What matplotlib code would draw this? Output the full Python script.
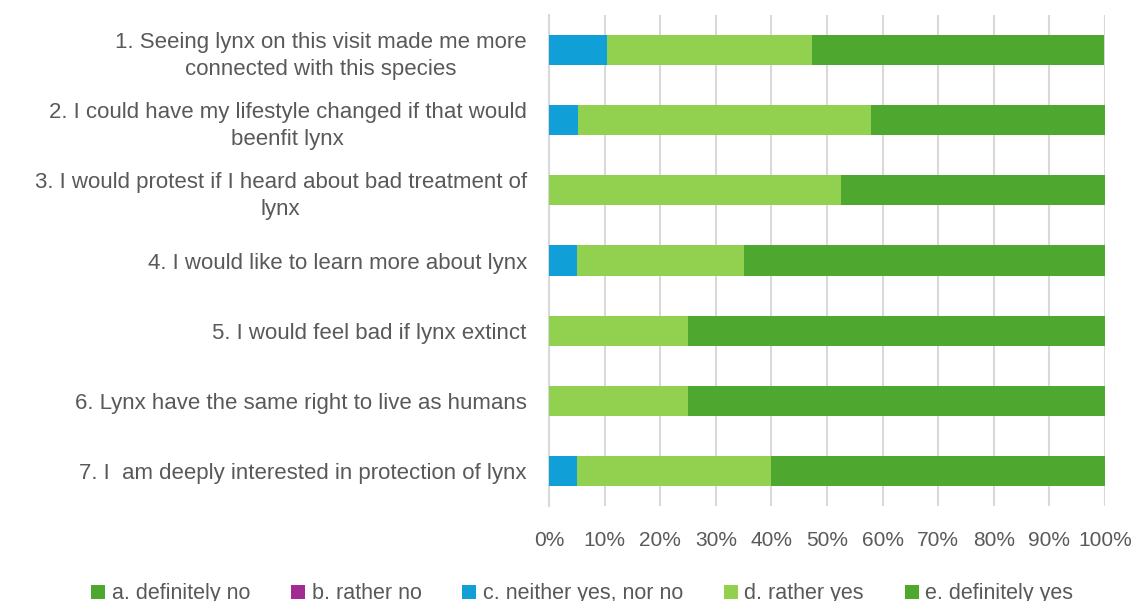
import numpy as np
import matplotlib.pyplot as plt
from matplotlib.ticker import PercentFormatter

# statements, top to bottom
statements = [
    "1. Seeing lynx on this visit made me more\nconnected with this species",
    "2. I could have my lifestyle changed if that would\nbeenfit lynx",
    "3. I would protest if I heard about bad treatment of\nlynx",
    "4. I would like to learn more about lynx",
    "5. I would feel bad if lynx extinct",
    "6. Lynx have the same right to live as humans",
    "7. I  am deeply interested in protection of lynx",
]

series_names = [
    "a. definitely no",
    "b. rather no",
    "c. neither yes, nor no",
    "d. rather yes",
    "e. definitely yes",
]

# shares in percent, one list per answer option
definitely_no = [0, 0, 0, 0, 0, 0, 0]
rather_no = [0, 0, 0, 0, 0, 0, 0]
neither = [10.5, 5.3, 0, 5, 0, 0, 5]
rather_yes = [36.8, 52.6, 52.6, 30, 25, 25, 35]
definitely_yes = [52.6, 42.1, 47.4, 65, 75, 75, 60]

colors = ["#4EA72E", "#A02B93", "#119FD7", "#92D050", "#4EA72E"]
text_color = "#595959"

plt.rcParams["font.family"] = ["Liberation Sans", "DejaVu Sans"]

fig = plt.figure(figsize=(11.35, 6.01), dpi=100)
ax = fig.add_axes([0.4837, 0.158, 0.4899, 0.817])

y = np.arange(len(statements))
left = np.zeros(len(statements))
for name, vals, col in zip(
    series_names,
    [definitely_no, rather_no, neither, rather_yes, definitely_yes],
    colors,
):
    vals = np.array(vals, dtype=float)
    ax.barh(y, vals, left=left, height=0.43, color=col, label=name, zorder=3)
    left += vals

ax.set_ylim(len(statements) - 0.5, -0.5)
ax.set_xlim(0, 100)
ax.set_xticks(np.arange(0, 101, 10))
ax.xaxis.set_major_formatter(PercentFormatter(decimals=0))
ax.set_yticks(y)
ax.set_yticklabels(statements, multialignment="center", linespacing=1.4,
                   fontsize=16)

ax.grid(axis="x", color="#D9D9D9", linewidth=1.5, zorder=0)
for side in ["top", "right", "bottom"]:
    ax.spines[side].set_visible(False)
ax.spines["left"].set_color("#D9D9D9")
ax.spines["left"].set_linewidth(1.5)
ax.tick_params(axis="both", length=0, colors=text_color)
ax.tick_params(axis="x", pad=18, labelsize=15)
ax.tick_params(axis="y", pad=16)

fig.legend(
    loc="center",
    bbox_to_anchor=(0.513, 0.012),
    ncol=5,
    frameon=False,
    fontsize=15.5,
    labelcolor=text_color,
    handlelength=0.65,
    handleheight=0.65,
    handletextpad=0.3,
    columnspacing=1.9,
)

fig.savefig("out.png", dpi=100)
